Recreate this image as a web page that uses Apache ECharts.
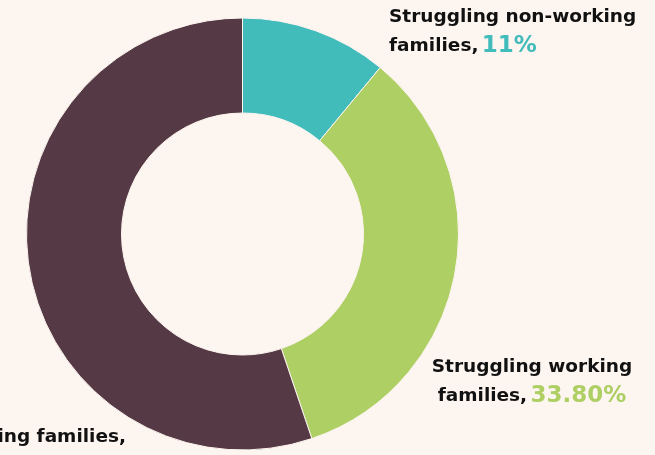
<!DOCTYPE html>
<html>
<head>
<meta charset="utf-8">
<script src="https://cdn.jsdelivr.net/npm/echarts@6/dist/echarts.min.js"></script>
<style>
  html, body { margin: 0; padding: 0; background: #fdf5f0; }
  #chart { width: 655px; height: 455px; }
</style>
</head>
<body>
<div id="chart"></div>
<script>
var groups = ['Struggling non-working families', 'Struggling working families', 'Not struggling working families'];
var shares = [11, 33.8, 55.2];
var shareLabels = ['11%', '33.80%', '55.20%'];
var colors = ['#42bbbb', '#aecf64', '#553a45'];

// where each label sits (x, y of first line, alignment)
var labelSpots = [
  { x: 389, y: 3, align: 'left' },
  { x: 532, y: 353, align: 'center' },
  { x: 126, y: 423, align: 'right' }
];

var chart = echarts.init(document.getElementById('chart'));

var data = groups.map(function (g, i) {
  var words = g.split(' ');
  var last = words.pop();
  var text = i === 2
    ? '{t|' + g + ',}\n{p|' + shareLabels[i] + '}'
    : '{t|' + words.join(' ') + '}\n{t|' + last + ',} {p|' + shareLabels[i] + '}';
  var a = labelSpots[i].align;
  return {
    name: g,
    value: shares[i],
    itemStyle: { color: colors[i] },
    label: {
      formatter: text,
      align: a,
      overflow: 'none',
      rich: {
        t: { fontFamily: 'DejaVu Sans', fontWeight: 'bold', fontSize: 18.5, color: '#111', lineHeight: 29, align: a },
        p: { fontFamily: 'DejaVu Sans', fontWeight: 'bold', fontSize: 23, color: colors[i], lineHeight: 29, align: a }
      }
    }
  };
});

chart.setOption({
  backgroundColor: '#fdf5f0',
  animation: false,
  series: [{
    type: 'pie',
    center: [242.5, 234],
    radius: [121, 216],
    startAngle: 90,
    clockwise: true,
    itemStyle: { borderColor: '#fdf5f0', borderWidth: 1 },
    label: { show: true, position: 'outside', overflow: 'none' },
    labelLine: { show: false },
    labelLayout: function (params) {
      var s = labelSpots[params.dataIndex];
      return { x: s.x, y: s.y, align: s.align, verticalAlign: 'top', moveOverlap: false, hideOverlap: false };
    },
    data: data
  }]
});
</script>
</body>
</html>
